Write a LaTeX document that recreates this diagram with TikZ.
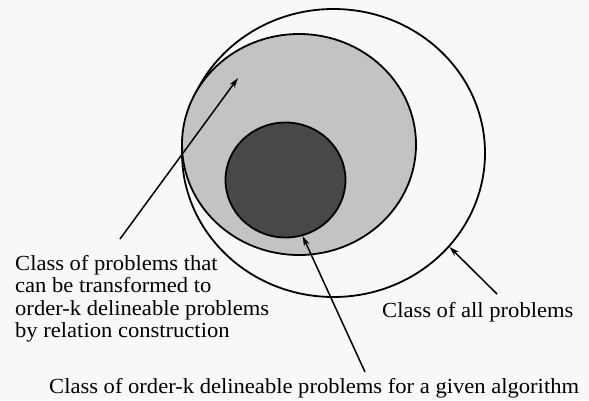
\documentclass[tikz,border=0pt]{standalone}
\usepackage{fontspec}
\setmainfont[FakeStretch=1.05]{Liberation Serif}
\usepackage{tikz}
\usetikzlibrary{shapes.geometric, arrows.meta, positioning, calc}

\definecolor{paper}{RGB}{248,248,248}
\definecolor{lightdots}{RGB}{195,195,195}
\definecolor{darkdots}{RGB}{72,72,72}

\tikzset{
  region/.style={ellipse, draw, line width=1.8pt, inner sep=0pt},
  lbl/.style={font=\fontsize{21.5}{22.5}\selectfont, inner sep=0pt, align=left},
  pointer/.style={-{Stealth[length=10pt, width=6pt]}, line width=1.5pt}
}

\begin{document}
\begin{tikzpicture}[x=1pt, y=-1pt]
    \fill[paper] (0,0) rectangle (589,400);
    \useasboundingbox (0,0) rectangle (589,400);

    \node[region, minimum width=303pt, minimum height=288pt] (all) at (333.5,153) {};
    \node[region, fill=lightdots, minimum width=234pt, minimum height=221pt] (trans) at (299,144.5) {};
    \node[region, fill=darkdots, minimum width=120pt, minimum height=115pt] (ordk) at (285.5,180) {};

    % base of a multi-line node is its last line
    \node[lbl, anchor=base west] (transtxt) at (15,337.5) {Class of problems that\\can be transformed to\\order-k delineable problems\\by relation construction};
    \node[lbl, anchor=base west] (alltxt) at (382,317) {Class of all problems};
    \node[lbl, anchor=base west] (ordktxt) at (49,393) {Class of order-k delineable problems for a given algorithm};

    \coordinate (transtail) at (120,239);
    \coordinate (transtip) at (238,78);
    \coordinate (alltail) at (497,294);
    \coordinate (ordktail) at (365,372);

    \draw[pointer] (transtail) -- (transtip);
    \draw[pointer] (alltail) -- (all.-39);
    \draw[pointer] (ordktail) -- (ordk.-73);
\end{tikzpicture}
\end{document}
